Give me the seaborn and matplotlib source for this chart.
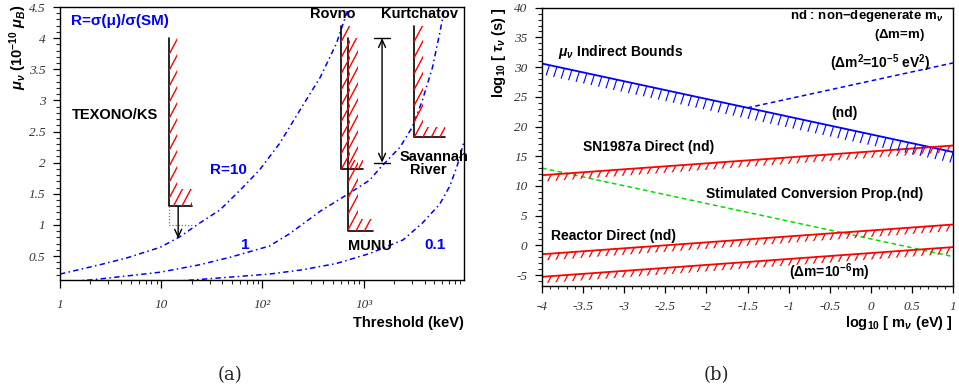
import numpy as np
import matplotlib
matplotlib.use("Agg")
import matplotlib.pyplot as plt
import seaborn as sns
from matplotlib.collections import LineCollection
from matplotlib.patches import Polygon
from matplotlib.ticker import FixedLocator, FixedFormatter, MultipleLocator, LogLocator, NullFormatter

# ---------------- panel (a) data ----------------
r10_keV = [1, 2.48, 4.57, 9.77, 15.3, 24.0, 38.0, 60.3, 93.3, 148, 234, 372, 537, 692, 800]
r10_mu = [0.21, 0.36, 0.47, 0.64, 0.81, 1.03, 1.24, 1.56, 1.88, 2.31, 2.84, 3.37, 3.91, 4.44, 4.85]
r1_keV = [1, 2.14, 4.57, 9.77, 24.0, 47.9, 117, 186, 372, 724, 1148, 1445, 2291, 3020, 3802, 4786, 5623, 6310, 7079]
r1_mu = [0.08, 0.12, 0.18, 0.24, 0.36, 0.48, 0.66, 0.86, 1.22, 1.51, 1.72, 1.91, 2.25, 2.57, 3.0, 3.53, 4.07, 4.49, 4.9]
r01_keV = [10, 20.4, 117, 251, 537, 1148, 2455, 3802, 5623, 7079, 8318, 9772]
r01_mu = [0.08, 0.115, 0.21, 0.28, 0.38, 0.54, 0.76, 1.03, 1.33, 1.62, 1.93, 2.33]

texono_keV = [12, 12, 20]
texono_mu = [4.0, 1.3, 1.3]
texono_goal_mu = 1.0
texono_arrow_keV = 14.7
texono_arrow_mu = [1.3, 0.78]
rovno_keV = [600, 600, 986]
rovno_mu = [4.2, 1.9, 1.9]
munu_keV = [700, 700, 1238]
munu_mu = [4.0, 0.9, 0.9]
kurch_keV = [3150, 3150, 6370]
kurch_mu = [4.2, 2.41, 2.41]
savannah_keV = 1520
savannah_mu = [2.0, 4.0]

xticks_a = [1, 10, 100, 1000]
xticklabels_a = ["1", "10", "10²", "10³"]
yticks_a = [0.5, 1, 1.5, 2, 2.5, 3, 3.5, 4, 4.5]
yticklabels_a = ["0.5", "1", "1.5", "2", "2.5", "3", "3.5", "4", "4.5"]

# ---------------- panel (b) data ----------------
mlog = [-4, 1]
indirect_tau = [30.6, 15.7]
dm2_mlog = [-1.5, 1]
dm2_tau = [23.15, 30.7]
sn_tau = [11.8, 16.8]
stim_tau = [13.0, -1.9]
reactor_tau = [-1.5, 3.5]
reactor_dm_tau = [-5.3, -0.3]

xticks_b = [-4, -3.5, -3, -2.5, -2, -1.5, -1, -0.5, 0, 0.5, 1]
yticks_b = [-5, 0, 5, 10, 15, 20, 25, 30, 35, 40]

# ---------------- style ----------------
sns.set_style("ticks")
plt.rcParams.update({
    "font.family": ["Liberation Sans", "DejaVu Sans"],
    "font.weight": "bold",
    "mathtext.fontset": "custom",
    "mathtext.rm": "Liberation Sans:bold",
    "mathtext.it": "Liberation Sans:italic:bold",
    "mathtext.bf": "Liberation Sans:bold",
    "axes.linewidth": 1.0,
    "axes.edgecolor": "black",
})

W, H = 959, 391
fig = plt.figure(figsize=(W / 100, H / 100), dpi=100)
fig.patch.set_facecolor("white")


def px_axes(l, r, t, b):
    return fig.add_axes([l / W, 1 - b / H, (r - l) / W, (b - t) / H])


axA = px_axes(60, 464, 7, 280)
axB = px_axes(542, 953, 7.7, 286)

BLUE = "#0000ff"
RED = "#ff0000"
GREEN = "#00dd00"
TICKFONT = dict(family="Liberation Serif", style="italic", weight="normal", size=9.5)
TICKCOL = "#333333"


def lp(ax, x, y, **kw):
    sns.lineplot(x=x, y=y, ax=ax, estimator=None, sort=False, legend=False, **kw)


def hatch(ax, poly_px, hstep, angle, color, lw):
    inv = ax.transData.inverted()
    xs = [p[0] for p in poly_px]
    ys = [p[1] for p in poly_px]
    x0, x1, y0, y1 = min(xs), max(xs), min(ys), max(ys)
    t = np.tan(np.radians(angle))
    hh = y1 - y0
    segs = []
    for s in np.arange(x0 - hh / t - hstep, x1 + hstep, hstep):
        segs.append(inv.transform([(s, y0), (s + hh / t, y1)]))
    lc = LineCollection(segs, colors=color, linewidths=lw)
    ax.add_collection(lc, autolim=False)
    clip = Polygon(inv.transform(poly_px), closed=True, transform=ax.transData)
    lc.set_clip_path(clip)


def hatch_L(ax, xs, ys, w, h, hstep=8.5, angle=62):
    T = ax.transData
    x0p, ytp = T.transform((xs[0], ys[0]))
    _, ybp = T.transform((xs[1], ys[1]))
    x1p, _ = T.transform((xs[2], ys[2]))
    poly = [(x0p, ybp), (x1p, ybp), (x1p, ybp + h), (x0p + w, ybp + h), (x0p + w, ytp), (x0p, ytp)]
    hatch(ax, poly, hstep, angle, RED, 1.0)


def hatch_below(ax, xs, ys, h, hstep, color, angle=65, lw=1.0):
    T = ax.transData
    p0 = T.transform((xs[0], ys[0]))
    p1 = T.transform((xs[1], ys[1]))
    poly = [tuple(p0), tuple(p1), (p1[0], p1[1] - h), (p0[0], p0[1] - h)]
    hatch(ax, poly, hstep, angle, color, lw)


# ================= panel (a) =================
ax = axA
ax.set_xscale("log")
ax.set_xlim(1, 9800)
ax.set_ylim(0.115, 4.5)

dashdot = (0, (3.5, 2.2, 1, 2.2))
for kx, ky in [(r10_keV, r10_mu), (r1_keV, r1_mu), (r01_keV, r01_mu)]:
    lp(ax, kx, ky, color=BLUE, lw=1.1, linestyle=dashdot)

for kx, ky in [(texono_keV, texono_mu), (rovno_keV, rovno_mu), (munu_keV, munu_mu), (kurch_keV, kurch_mu)]:
    lp(ax, kx, ky, color="black", lw=1.2)

# TEXONO projected sensitivity box
lp(ax, [texono_keV[0], texono_keV[0], texono_keV[2]],
   [texono_mu[1], texono_goal_mu, texono_goal_mu], color="#777777", lw=0.9, linestyle=(0, (1, 1.5)))
ax.annotate("", xy=(texono_arrow_keV, texono_arrow_mu[1]), xytext=(texono_arrow_keV, texono_arrow_mu[0]),
            arrowprops=dict(arrowstyle="->,head_length=0.55,head_width=0.25", lw=1.0, color="black",
                            shrinkA=0, shrinkB=0))

# Savannah River double arrow with caps
ax.annotate("", xy=(savannah_keV, savannah_mu[1]), xytext=(savannah_keV, savannah_mu[0]),
            arrowprops=dict(arrowstyle="<->,head_length=0.55,head_width=0.25", lw=1.0, color="black",
                            shrinkA=0, shrinkB=0))
cap = 10 ** (8 / 101.2)
for yv in savannah_mu:
    lp(ax, [savannah_keV / cap, savannah_keV * cap], [yv, yv], color="black", lw=1.0)

ax.set_xlim(1, 9800)
ax.set_ylim(0.115, 4.5)

hatch_L(ax, texono_keV, texono_mu, 7.5, 17)
hatch_L(ax, rovno_keV, rovno_mu, 9, 9)
hatch_L(ax, munu_keV, munu_mu, 10, 12)
hatch_L(ax, kurch_keV, kurch_mu, 9, 10)

ax.xaxis.set_major_locator(FixedLocator(xticks_a))
ax.xaxis.set_major_formatter(FixedFormatter(xticklabels_a))
ax.xaxis.set_minor_locator(LogLocator(base=10, subs=np.arange(2, 10)))
ax.xaxis.set_minor_formatter(NullFormatter())
ax.yaxis.set_major_locator(FixedLocator(yticks_a))
ax.yaxis.set_major_formatter(FixedFormatter(yticklabels_a))
ax.yaxis.set_minor_locator(MultipleLocator(0.1))

tA = dict(color="black", fontsize=10.5, fontweight="bold")
bA = dict(color=BLUE, fontsize=11, fontweight="bold")
ax.text(1.28, 4.28, "R=σ(μ)/σ(SM)", ha="left", va="center", **bA)
ax.text(1.31, 2.76, "TEXONO/KS", ha="left", va="center", **tA)
ax.text(30.3, 1.88, "R=10", ha="left", va="center", **bA)
ax.text(67, 0.68, "1", ha="center", va="center", **bA)
ax.text(5040, 0.68, "0.1", ha="center", va="center", **bA)
ax.text(700, 0.66, "MUNU", ha="left", va="center", **tA)
ax.text(495, 4.38, "Rovno", ha="center", va="center", **tA)
ax.text(3580, 4.38, "Kurtchatov", ha="center", va="center", **tA)
ax.text(2290, 2.09, "Savannah", ha="left", va="center", clip_on=False, **tA)
ax.text(2870, 1.88, "River", ha="left", va="center", **tA)

# ================= panel (b) =================
ax = axB
ax.set_xlim(-4, 1)
ax.set_ylim(-6.85, 40)
lp(ax, mlog, indirect_tau, color=BLUE, lw=1.3)
lp(ax, dm2_mlog, dm2_tau, color=BLUE, lw=1.1, linestyle=(0, (3, 2.2)))
lp(ax, mlog, stim_tau, color=GREEN, lw=1.1, linestyle=(0, (3, 2.2)))
for yy in (sn_tau, reactor_tau, reactor_dm_tau):
    lp(ax, mlog, yy, color=RED, lw=1.3)
ax.set_xlim(-4, 1)
ax.set_ylim(-6.85, 40)

hatch_below(ax, mlog, indirect_tau, 11, 8, BLUE, angle=72, lw=0.8)
for yy in (sn_tau, reactor_tau, reactor_dm_tau):
    hatch_below(ax, mlog, yy, 6.5, 8, RED, angle=63, lw=0.9)

ax.xaxis.set_major_locator(FixedLocator(xticks_b))
ax.xaxis.set_major_formatter(FixedFormatter([f"{v:g}" for v in xticks_b]))
ax.xaxis.set_minor_locator(MultipleLocator(0.1))
ax.yaxis.set_major_locator(FixedLocator(yticks_b))
ax.yaxis.set_major_formatter(FixedFormatter([f"{v:g}" for v in yticks_b]))
ax.yaxis.set_minor_locator(MultipleLocator(1))

tB = dict(color="black", fontsize=10, fontweight="bold")
ax.text(0.88, 38.6, r"nd : non$-$degenerate m$_{\nu}$", ha="right", va="center",
        color="black", fontsize=9.5, fontweight="bold")
ax.text(0.66, 35.4, r"($\Delta$m=m)", ha="right", va="center",
        color="black", fontsize=9.5, fontweight="bold")
ax.text(-3.8, 32.5, r"$\mu_{\nu}$ Indirect Bounds", ha="left", va="center", **tB)
ax.text(-0.5, 30.7, r"($\Delta$m$^{2}$=10$^{-5}$ eV$^{2}$)", ha="left", va="center", **tB)
ax.text(-0.48, 22.3, "(nd)", ha="left", va="center", **tB)
ax.text(-3.5, 16.5, "SN1987a Direct (nd)", ha="left", va="center", **tB)
ax.text(-2.0, 8.6, "Stimulated Conversion Prop.(nd)", ha="left", va="center", **tB)
ax.text(-3.89, 1.6, "Reactor Direct (nd)", ha="left", va="center", **tB)
ax.text(-1.0, -4.5, r"($\Delta$m=10$^{-6}$m)", ha="left", va="center", **tB)

# ---------------- axes styling ----------------
for a, xlen, xpad, ypad in ((axA, 5.8, 8.0, 5.5), (axB, 5.0, 5.5, 5.5)):
    a.tick_params(which="major", direction="out", length=5, width=0.9, top=False, right=False,
                  colors="black", labelcolor=TICKCOL)
    a.tick_params(which="minor", direction="out", length=2.6, width=0.8, top=False, right=False)
    a.tick_params(axis="x", which="major", length=xlen, pad=xpad)
    a.tick_params(axis="x", which="minor", length=xlen / 2)
    a.tick_params(axis="y", which="major", pad=ypad)
    for lab in a.get_xticklabels() + a.get_yticklabels():
        lab.set_fontproperties(matplotlib.font_manager.FontProperties(**TICKFONT))
    for s in a.spines.values():
        s.set_visible(True)
        s.set_linewidth(1.0)
    a.set_xlabel("")
    a.set_ylabel("")

lab = dict(fontsize=10.5, fontweight="bold", color="black")
fig.text(464 / W, 1 - 323 / H, "Threshold (keV)", ha="right", va="center", **lab)
fig.text(18 / W, 1 - 5 / H, r"$\mu_{\nu}$ (10$^{-10}$ $\mu_{B}$)", rotation=90, ha="center", va="top", **lab)
fig.text(953 / W, 1 - 323 / H, r"log$_{10}$ [ m$_{\nu}$ (eV) ]", ha="right", va="center", **lab)
fig.text(499 / W, 1 - 7 / H, r"log$_{10}$ [ $\tau_{\nu}$ (s) ]", rotation=90, ha="center", va="top", **lab)

cap_kw = dict(fontsize=13, family="DejaVu Serif", fontweight="normal", ha="center", va="center")
fig.text(230 / W, 1 - 375 / H, "(a)", **cap_kw)
fig.text(716 / W, 1 - 375 / H, "(b)", **cap_kw)

fig.savefig("out.png", dpi=100, facecolor="white")
